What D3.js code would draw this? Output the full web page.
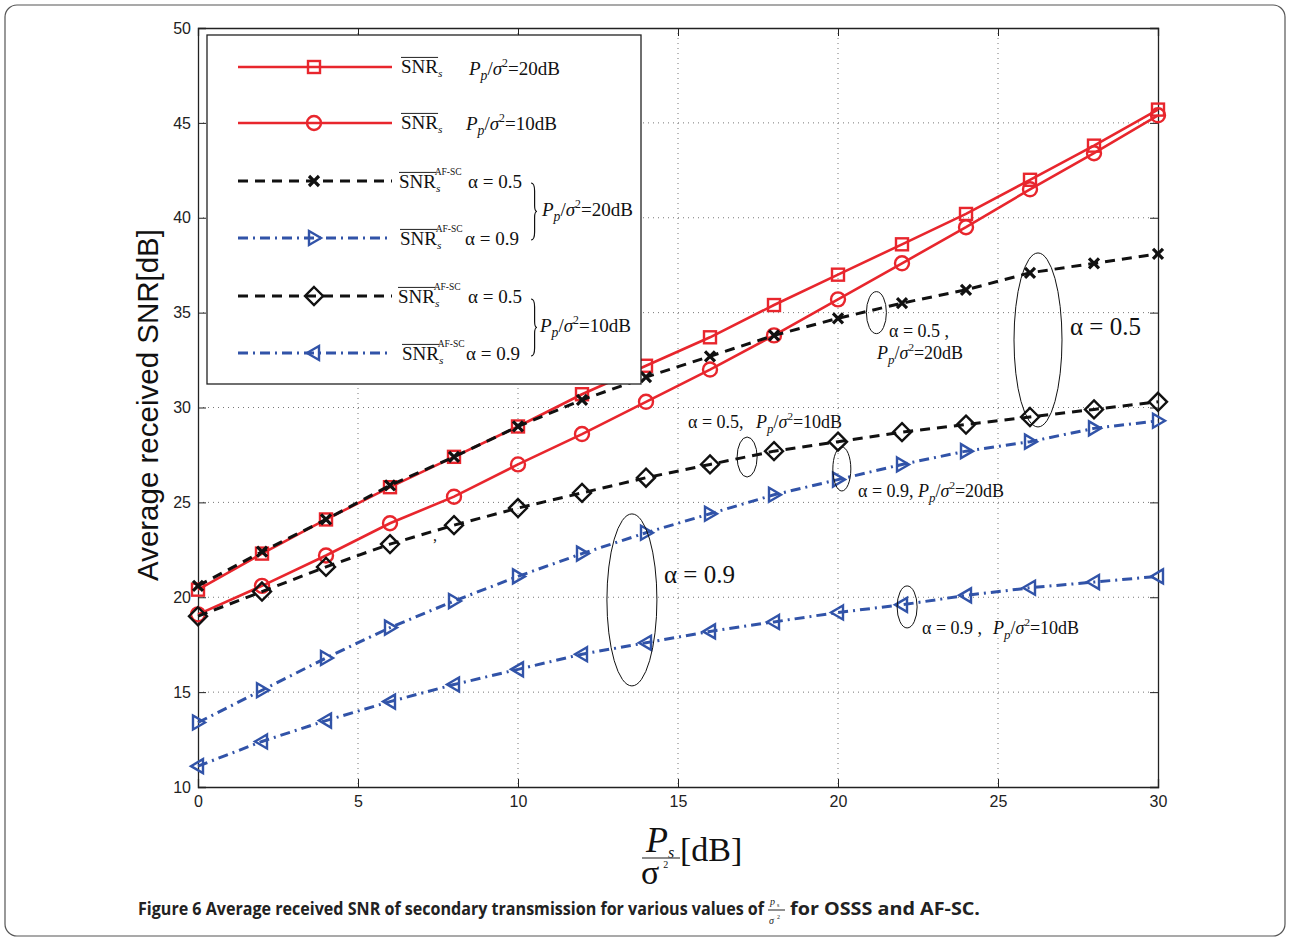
<!DOCTYPE html>
<html><head><meta charset="utf-8">
<script src="https://cdn.jsdelivr.net/npm/d3@7"></script>
<style>body{margin:0;background:#fff}svg{display:block}</style>
</head><body>
<svg id="c" width="1290" height="941"></svg>
<script>
const xValues = [0,2,4,6,8,10,12,14,16,18,20,22,24,26,28,30];
const snrOsss20 = [20.4,22.3,24.1,25.8,27.4,29.0,30.7,32.2,33.7,35.4,37.0,38.6,40.2,42.0,43.8,45.7];
const snrOsss10 = [19.1,20.6,22.2,23.9,25.3,27.0,28.6,30.3,32.0,33.8,35.7,37.6,39.5,41.5,43.4,45.4];
const afA05P20 = [20.6,22.4,24.1,25.9,27.4,29.0,30.4,31.6,32.7,33.8,34.7,35.5,36.2,37.1,37.6,38.1];
const afA09P20 = [13.4,15.1,16.8,18.4,19.8,21.1,22.3,23.4,24.4,25.4,26.2,27.0,27.7,28.2,28.9,29.3];
const afA05P10 = [19.0,20.3,21.6,22.8,23.8,24.7,25.5,26.3,27.0,27.7,28.2,28.7,29.1,29.5,29.9,30.3];
const afA09P10 = [11.1,12.4,13.5,14.5,15.4,16.2,17.0,17.6,18.2,18.7,19.2,19.6,20.1,20.5,20.8,21.1];
const xTicks = [0,5,10,15,20,25,30];
const yTicks = [10,15,20,25,30,35,40,45,50];

const RED = "#e8262d", BLUE = "#3153a8", BLACK = "#111";
const series = [
  {vals: snrOsss20, color: RED, dash: null, marker: "square"},
  {vals: snrOsss10, color: RED, dash: null, marker: "circle"},
  {vals: afA05P20, color: BLACK, dash: "10,7", marker: "x"},
  {vals: afA09P20, color: BLUE, dash: "10,5,2,5", marker: "triR"},
  {vals: afA05P10, color: BLACK, dash: "10,7", marker: "diamond"},
  {vals: afA09P10, color: BLUE, dash: "10,5,2,5", marker: "triL"}
];

const svg = d3.select("#c");
const x = d3.scaleLinear().domain([0,30]).range([198,1158]);
const y = d3.scaleLinear().domain([10,50]).range([787,28]);
const SERIF = "'Liberation Serif','Times New Roman',serif";
const SANS = "'Liberation Sans',Arial,sans-serif";

// outer rounded frame
svg.append("rect").attr("x",5).attr("y",5).attr("width",1280).attr("height",931)
  .attr("rx",12).attr("fill","none").attr("stroke","#555").attr("stroke-width",1.2);

// grid
const grid = svg.append("g").attr("stroke","#777").attr("stroke-width",1).attr("stroke-dasharray","1,4");
xTicks.slice(1,-1).forEach(t=>grid.append("line").attr("x1",x(t)).attr("x2",x(t)).attr("y1",y(50)).attr("y2",y(10)));
yTicks.slice(1,-1).forEach(t=>grid.append("line").attr("y1",y(t)).attr("y2",y(t)).attr("x1",x(0)).attr("x2",x(30)));

// axes
const axB = svg.append("g").attr("transform",`translate(0,${y(10)})`)
  .call(d3.axisBottom(x).tickValues(xTicks).tickSize(-8).tickPadding(9));
const axL = svg.append("g").attr("transform",`translate(${x(0)},0)`)
  .call(d3.axisLeft(y).tickValues(yTicks).tickSize(-8).tickPadding(7));
const axT = svg.append("g").attr("transform",`translate(0,${y(50)})`)
  .call(d3.axisTop(x).tickValues(xTicks).tickSize(-8).tickFormat(""));
const axR = svg.append("g").attr("transform",`translate(${x(30)},0)`)
  .call(d3.axisRight(y).tickValues(yTicks).tickSize(-8).tickFormat(""));
[axB,axL,axT,axR].forEach(a=>{
  a.attr("font-family",SANS).attr("font-size",16);
  a.selectAll("path").attr("stroke","#222").attr("stroke-width",1.3);
  a.selectAll("line").attr("stroke","#222");
  a.selectAll("text").attr("font-family",SANS).attr("font-size",16).attr("fill","#222");
});

// series
const line = d3.line().x((d,i)=>x(xValues[i])).y(d=>y(d));
const sym = {
  square: g=>g.append("rect").attr("x",-6).attr("y",-6).attr("width",12).attr("height",12),
  circle: g=>g.append("circle").attr("r",7),
  x: g=>g.append("path").attr("d","M-5,-5L5,5M-5,5L5,-5"),
  diamond: g=>g.append("path").attr("d","M0,-9L9,0L0,9L-9,0Z"),
  triR: g=>g.append("path").attr("d","M-5,-7L7,0L-5,7Z"),
  triL: g=>g.append("path").attr("d","M5,-7L-7,0L5,7Z")
};
function drawMarker(parent, cx, cy, s){
  const g = parent.append("g").attr("transform",`translate(${cx},${cy})`)
    .attr("fill","none").attr("stroke",s.color).attr("stroke-width",s.marker==="x"?3.2:2.4);
  sym[s.marker](g);
}
series.forEach(s=>{
  svg.append("path").datum(s.vals).attr("d",line).attr("fill","none")
    .attr("stroke",s.color).attr("stroke-width",s.dash?3:2.6)
    .attr("stroke-dasharray",s.dash);
  s.vals.forEach((v,i)=>drawMarker(svg, x(xValues[i]), y(v), s));
});

// helper for P_p/σ^2=..dB
function ppText(parent, px, py, size, suffix){
  const t = parent.append("text").attr("x",px).attr("y",py).attr("font-family",SERIF)
    .attr("font-size",size).attr("fill","#111");
  t.append("tspan").attr("font-style","italic").text("P");
  t.append("tspan").attr("font-style","italic").attr("font-size",size*0.72).attr("dy",size*0.25).text("p");
  t.append("tspan").attr("dy",-size*0.25).text("/");
  t.append("tspan").attr("font-style","italic").text("σ");
  t.append("tspan").attr("font-size",size*0.62).attr("dy",-size*0.42).text("2");
  t.append("tspan").attr("dy",size*0.42).text(suffix);
  return t;
}
function snrText(parent, px, py, size, sup){
  const t = parent.append("text").attr("x",px).attr("y",py).attr("font-family",SERIF)
    .attr("font-size",size).attr("fill","#111");
  t.append("tspan").text("SNR");
  t.append("tspan").attr("font-style","italic").attr("font-size",size*0.6).attr("dy",size*0.22).text("s");
  if (sup) t.append("tspan").attr("font-size",size*0.5).attr("dx",-size*0.3).attr("dy",-size*0.9).text("AF-SC");
  parent.append("line").attr("x1",px).attr("x2",px+size*1.95).attr("y1",py-size*0.82).attr("y2",py-size*0.82)
    .attr("stroke","#222").attr("stroke-width",1);
  return t;
}

// legend
const lg = svg.append("g");
lg.append("rect").attr("x",207).attr("y",35).attr("width",434).attr("height",349)
  .attr("fill","#fff").attr("stroke","#222").attr("stroke-width",1.3);
const rowY = [67,123,181,238,296,353];
series.forEach((s,i)=>{
  lg.append("line").attr("x1",238).attr("x2",392).attr("y1",rowY[i]).attr("y2",rowY[i])
    .attr("stroke",s.color).attr("stroke-width",s.dash?3:2.6).attr("stroke-dasharray",s.dash);
  drawMarker(lg, 314, rowY[i], s);
});
snrText(lg, 401, 73, 19, false); ppText(lg, 469, 75, 19, "=20dB");
snrText(lg, 401, 129, 19, false); ppText(lg, 466, 130, 19, "=10dB");
const alphaRows = [[399,188,468,"α = 0.5"],[400,245,465,"α = 0.9"],[398,303,468,"α = 0.5"],[402,360,466,"α = 0.9"]];
alphaRows.forEach(r=>{
  snrText(lg, r[0], r[1], 19, true);
  lg.append("text").attr("x",r[2]).attr("y",r[1]).attr("font-family",SERIF).attr("font-size",19)
    .attr("fill","#111").text(r[3]);
});
function brace(parent, bx, y1, y2){
  const m=(y1+y2)/2, w=6;
  parent.append("path").attr("d",
    `M${bx},${y1} Q${bx+w*0.6},${y1} ${bx+w*0.6},${y1+8} L${bx+w*0.6},${m-6} Q${bx+w*0.6},${m} ${bx+w},${m}`+
    ` Q${bx+w*0.6},${m} ${bx+w*0.6},${m+6} L${bx+w*0.6},${y2-8} Q${bx+w*0.6},${y2} ${bx},${y2}`)
    .attr("fill","none").attr("stroke","#111").attr("stroke-width",1.2);
}
brace(lg, 531, 183, 240); ppText(lg, 542, 216, 19, "=20dB");
brace(lg, 531, 299, 356); ppText(lg, 540, 332, 19, "=10dB");

// annotations (ellipses in data coords)
const ellipses = [
  {cx:21.2, cy:35.0, rx:10, ry:21},
  {cx:26.25, cy:33.56, rx:24, ry:87},
  {cx:17.16, cy:27.39, rx:10, ry:20},
  {cx:20.12, cy:26.76, rx:9, ry:22},
  {cx:13.56, cy:19.86, rx:25, ry:86},
  {cx:22.16, cy:19.49, rx:10, ry:21}
];
ellipses.forEach(e=>svg.append("ellipse").attr("cx",x(e.cx)).attr("cy",y(e.cy))
  .attr("rx",e.rx).attr("ry",e.ry).attr("fill","none").attr("stroke","#111").attr("stroke-width",1));
function txt(px,py,size,s){
  return svg.append("text").attr("x",px).attr("y",py).attr("font-family",SERIF).attr("font-size",size).attr("fill","#111").text(s);
}
txt(889,337,18,"α = 0.5 ,"); ppText(svg, 877, 359, 18, "=20dB");
txt(1070,335,25,"α = 0.5");
txt(688,428,18,"α = 0.5,"); ppText(svg, 756, 428, 18, "=10dB");
txt(858,497,18,"α = 0.9,"); ppText(svg, 918, 497, 18, "=20dB");
txt(664,583,25,"α = 0.9");
txt(922,634,18,"α = 0.9 ,"); ppText(svg, 993, 634, 18, "=10dB");
txt(433,541,16,",");

// y-axis title
svg.append("text").attr("transform","translate(158,405) rotate(-90)").attr("text-anchor","middle")
  .attr("font-family",SANS).attr("font-size",30).attr("fill","#111")
  .attr("textLength",352).attr("lengthAdjust","spacingAndGlyphs").text("Average received SNR[dB]");

// x-axis title (fraction)
const xt = svg.append("g");
const num = xt.append("text").attr("x",646).attr("y",852).attr("font-family",SERIF).attr("fill","#111");
num.append("tspan").attr("font-size",36).attr("font-style","italic").text("P");
num.append("tspan").attr("font-size",16).attr("font-style","italic").attr("dy",6).text("s");
xt.append("line").attr("x1",642).attr("x2",680).attr("y1",858).attr("y2",858).attr("stroke","#666").attr("stroke-width",1.5);
const den = xt.append("text").attr("x",641).attr("y",884).attr("font-family",SERIF).attr("fill","#111");
den.append("tspan").attr("font-size",34).text("σ");
den.append("tspan").attr("font-size",10).attr("dx",4).attr("dy",-16).text("2");
xt.append("text").attr("x",680).attr("y",861).attr("font-family",SERIF).attr("font-size",34)
  .attr("fill","#111").text("[dB]");

// caption
const CAP = "'Open Sans','Noto Sans',sans-serif";
svg.append("text").attr("x",138).attr("y",915).attr("font-family",CAP).attr("font-size",18)
  .attr("font-weight",700).attr("fill","#222").attr("textLength",626).attr("lengthAdjust","spacingAndGlyphs")
  .text("Figure 6 Average received SNR of secondary transmission for various values of");
const fr = svg.append("g");
fr.append("text").attr("x",770).attr("y",905).attr("font-family",SERIF).attr("font-size",10)
  .attr("font-style","italic").attr("fill","#222").text("p");
fr.append("text").attr("x",777).attr("y",907).attr("font-family",SERIF).attr("font-size",6)
  .attr("fill","#222").text("s");
fr.append("line").attr("x1",768).attr("x2",785).attr("y1",910).attr("y2",910).attr("stroke","#222").attr("stroke-width",1);
fr.append("text").attr("x",769).attr("y",924).attr("font-family",SERIF).attr("font-size",10)
  .attr("font-style","italic").attr("fill","#222").text("σ");
fr.append("text").attr("x",777).attr("y",919).attr("font-family",SERIF).attr("font-size",6)
  .attr("fill","#222").text("2");
svg.append("text").attr("x",790).attr("y",915).attr("font-family",CAP).attr("font-size",18)
  .attr("font-weight",700).attr("fill","#222").attr("textLength",190).attr("lengthAdjust","spacingAndGlyphs")
  .text("for OSSS and AF-SC.");
</script>
</body></html>
